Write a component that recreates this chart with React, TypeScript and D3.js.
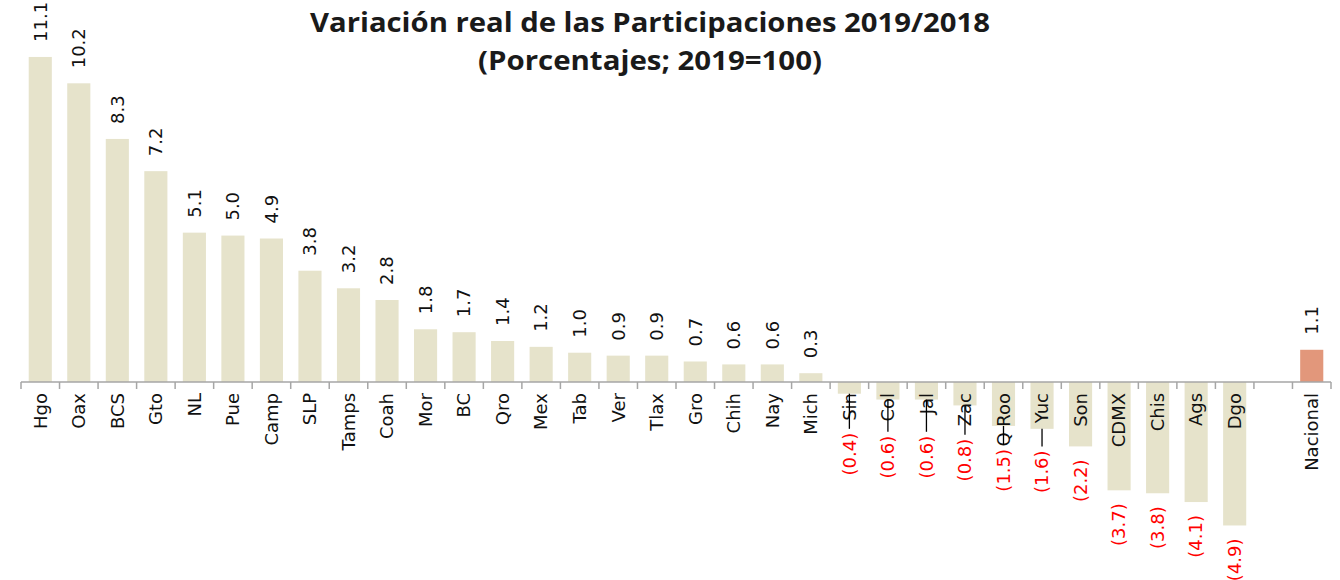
import * as d3 from 'd3';

// estados, ordenados como en la gráfica
const states = [
  'Hgo', 'Oax', 'BCS', 'Gto', 'NL', 'Pue', 'Camp', 'SLP', 'Tamps', 'Coah', 'Mor',
  'BC', 'Qro', 'Mex', 'Tab', 'Ver', 'Tlax', 'Gro', 'Chih', 'Nay', 'Mich',
  'Sin', 'Col', 'Jal', 'Zac', 'Q Roo', 'Yuc', 'Son', 'CDMX', 'Chis', 'Ags', 'Dgo'
];
const stateValues = [
  11.1, 10.2, 8.3, 7.2, 5.1, 5.0, 4.9, 3.8, 3.2, 2.8, 1.8,
  1.7, 1.4, 1.2, 1.0, 0.9, 0.9, 0.7, 0.6, 0.6, 0.3,
  -0.4, -0.6, -0.6, -0.8, -1.5, -1.6, -2.2, -3.7, -3.8, -4.1, -4.9
];
const nationalLabel = 'Nacional';
const nationalValue = 1.1;

const titleLines = ['Variación real de las Participaciones 2019/2018', '(Porcentajes; 2019=100)'];

const W = 1340;
const H = 580;
const FONT = '"DejaVu Sans", Verdana, sans-serif';

export default function App() {
  const slots = [...states, ' ', nationalLabel];
  const bars = states.map((s, i) => ({ cat: s, value: stateValues[i], national: false }));
  bars.push({ cat: nationalLabel, value: nationalValue, national: true });

  const x = d3.scaleBand<string>().domain(slots).range([21, 1331]).paddingInner(0.4).paddingOuter(0.2);
  const y = d3.scaleLinear().domain([-5, 12]).range([528.4, 30.6]);
  const y0 = y(0);
  const step = x.step();
  const ticks = d3.range(slots.length + 1).map((i) => 21 + i * step);

  const fmt = (v: number) => (v < 0 ? `(${d3.format('.1f')(-v)})` : d3.format('.1f')(v));

  return (
    <svg width={W} height={H} style={{ position: 'absolute', left: 0, top: 0, background: '#fff' }}>
      <g fontFamily='"Open Sans", sans-serif' fontWeight="bold" textAnchor="middle" fill="#1a1a1a">
        <text x={650} y={32} fontSize={26} textLength={680} lengthAdjust="spacingAndGlyphs">{titleLines[0]}</text>
        <text x={650} y={70} fontSize={26} textLength={344} lengthAdjust="spacingAndGlyphs">{titleLines[1]}</text>
      </g>

      {bars.map((d) => {
        const top = y(Math.max(0, d.value));
        const h = Math.abs(y(d.value) - y0);
        return (
          <rect key={d.cat} x={x(d.cat)} y={top} width={x.bandwidth()} height={h}
            fill={d.national ? '#E2977B' : '#E6E3CB'} />
        );
      })}

      {/* eje */}
      <line x1={21} x2={1331} y1={y0} y2={y0} stroke="#A6A6A6" strokeWidth={1.5} />
      {ticks.map((t, i) => (
        <line key={i} x1={t} x2={t} y1={y0} y2={y0 + 7} stroke="#A6A6A6" strokeWidth={1.5} />
      ))}

      <g fontFamily={FONT} fontSize={18}>
        {bars.map((d) => {
          const cx = (x(d.cat) as number) + x.bandwidth() / 2;
          return (
            <text key={'c' + d.cat} transform={`translate(${cx},${y0 + 11}) rotate(-90)`}
              textAnchor="end" dy="0.35em" fill="#111">{d.cat}</text>
          );
        })}

        {bars.map((d) => {
          const cx = (x(d.cat) as number) + x.bandwidth() / 2;
          if (d.value >= 0) {
            return (
              <text key={'v' + d.cat} transform={`translate(${cx},${y(d.value) - 15}) rotate(-90)`}
                textAnchor="start" dy="0.35em" fill="#111">{fmt(d.value)}</text>
            );
          }
          // etiquetas negativas: se desplazan para no tapar el nombre del estado
          const bottom = y(d.value);
          const labelTop = Math.max(bottom + 13, 0.5 * bottom + 236);
          const leader = labelTop - bottom > 16;
          return (
            <g key={'v' + d.cat}>
              {leader && (
                <line x1={cx} x2={cx} y1={bottom} y2={labelTop - 4} stroke="#000" strokeWidth={1.3} />
              )}
              <text transform={`translate(${cx},${labelTop}) rotate(-90)`}
                textAnchor="end" dy="0.35em" fill="#FF0000">{fmt(d.value)}</text>
            </g>
          );
        })}
      </g>
    </svg>
  );
}
